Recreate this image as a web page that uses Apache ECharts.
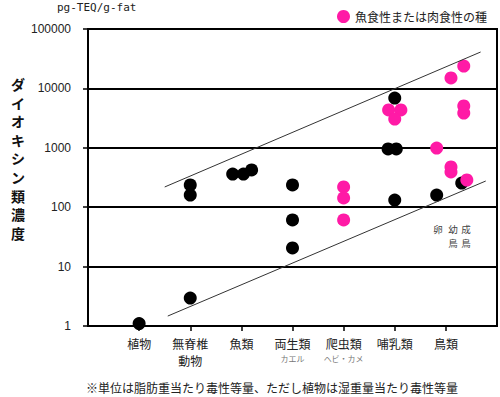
<!DOCTYPE html>
<html>
<head>
<meta charset="utf-8">
<script src="https://cdn.jsdelivr.net/npm/echarts@6/dist/echarts.min.js"></script>
<style>
  html, body { margin: 0; padding: 0; background: #fff; }
  #chart { width: 500px; height: 397px; }
</style>
</head>
<body>
<div id="chart"></div>
<script>
// 分類 (x = 1..7)
const categories = ["植物", "無脊椎\n動物", "魚類", "両生類", "爬虫類", "哺乳類", "鳥類"];
const subLabels = ["", "", "", "カエル", "ヘビ・カメ", "", ""];
const yTicks = [1, 10, 100, 1000, 10000, 100000];

// [分類位置, 濃度 pg-TEQ/g-fat]
const otherSpecies = [
  [1, 1.1],
  [2, 237], [2, 160], [2, 2.96],
  [2.83, 362], [3.04, 362], [3.2, 423],
  [4, 237], [4, 61], [4, 20.6],
  [6, 6890], [5.87, 955], [6.03, 955], [6, 132],
  [7.31, 255], [6.82, 160],
];
const carnivores = [
  [5, 219], [5, 143], [5, 61],
  [5.88, 4330], [6.12, 4330], [6, 3050],
  [7.1, 14970], [7.35, 23800], [7.35, 5060], [7.35, 3850],
  [6.82, 992], [7.1, 476], [7.1, 392], [7.41, 287],
];
const upperLine = [[1.5, 219], [7.68, 41000]];
const lowerLine = [[1.56, 1.47], [7.78, 276]];

const JP = "'Noto Sans CJK JP', sans-serif";
const chart = echarts.init(document.getElementById("chart"), null, { renderer: "svg" });

// 縦書きの軸タイトル: 一文字ずつ置く
const yTitle = "ダイオキシン類濃度".split("").map((ch, i) => ({
  type: "text", x: 18, y: 84 + i * 18.6,
  style: { text: ch, fontFamily: JP, fontSize: 14, fontWeight: "bold", fill: "#111",
    align: "center", verticalAlign: "middle" },
}));

// 鳥類の注記 (卵 / 幼鳥 / 成鳥)
const birdNote = [
  ["卵", 438, 229], ["幼", 453, 229], ["成", 466, 229],
  ["鳥", 453, 243], ["鳥", 466, 243],
].map(([t, x, y]) => ({
  type: "text", x, y,
  style: { text: t, fontFamily: JP, fontSize: 9.5, fill: "#444", align: "center", verticalAlign: "middle" },
}));

chart.setOption({
  animation: false,
  grid: { left: 88, right: 3, top: 29, bottom: 71, show: true, borderColor: "#000", borderWidth: 2 },
  legend: {
    data: ["魚食性または肉食性の種"],
    right: 8, top: 5,
    icon: "circle", itemWidth: 13, itemHeight: 13, itemGap: 4,
    textStyle: { fontFamily: JP, fontSize: 12, color: "#222" },
  },
  xAxis: {
    type: "value", min: 0, max: 8, interval: 1,
    splitLine: { show: false },
    axisLine: { lineStyle: { color: "#000", width: 2 } },
    axisTick: { customValues: [1, 2, 3, 4, 5, 6, 7], length: 5, lineStyle: { color: "#000", width: 1.5 } },
    axisLabel: {
      customValues: [1, 2, 3, 4, 5, 6, 7],
      margin: 9,
      formatter: (v) => {
        const i = Math.round(v) - 1;
        return subLabels[i] ? categories[i] + "\n{s|" + subLabels[i] + "}" : categories[i];
      },
      fontFamily: JP, fontSize: 12, color: "#222", lineHeight: 17,
      rich: { s: { fontFamily: JP, fontSize: 8, color: "#777", lineHeight: 12 } },
    },
  },
  yAxis: {
    type: "log", logBase: 10, min: 1, max: 100000,
    axisLine: { lineStyle: { color: "#000", width: 2 } },
    axisTick: { length: 5, lineStyle: { color: "#000", width: 1.5 } },
    splitLine: { lineStyle: { color: "#000", width: 2 } },
    axisLabel: {
      margin: 17,
      formatter: (v) => String(v),
      fontFamily: "'Liberation Sans', sans-serif", fontSize: 12, color: "#222",
    },
  },
  graphic: [
    { type: "text", left: 57, top: 2,
      style: { text: "pg-TEQ/g-fat", fontFamily: "'DejaVu Sans Mono', monospace", fontSize: 11, fill: "#222" } },
    ...yTitle,
    ...birdNote,
    { type: "text", left: 86, top: 381,
      style: { text: "※単位は脂肪重当たり毒性等量、ただし植物は湿重量当たり毒性等量",
        fontFamily: JP, fontSize: 12, fill: "#222" } },
  ],
  series: [
    { type: "line", data: upperLine, symbol: "none", silent: true,
      lineStyle: { color: "#333", width: 1 } },
    { type: "line", data: lowerLine, symbol: "none", silent: true,
      lineStyle: { color: "#333", width: 1 } },
    { name: "その他の種", type: "scatter", data: otherSpecies, symbolSize: 13,
      itemStyle: { color: "#000", opacity: 1 } },
    { name: "魚食性または肉食性の種", type: "scatter", data: carnivores, symbolSize: 13,
      itemStyle: { color: "#ff1aa6", opacity: 1 } },
  ],
});
</script>
</body>
</html>
